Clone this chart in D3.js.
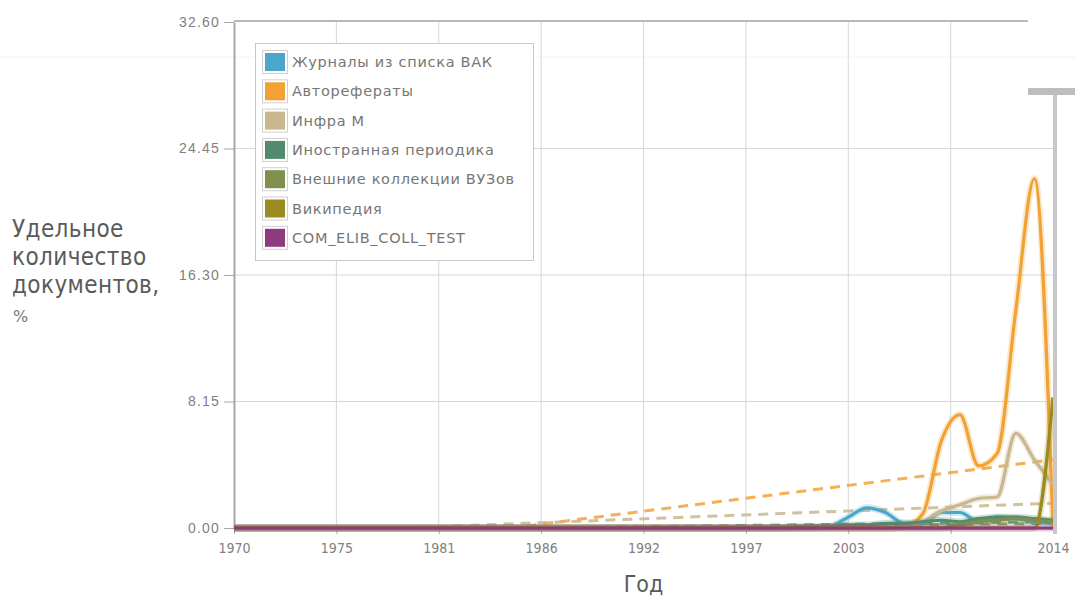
<!DOCTYPE html>
<html>
<head>
<meta charset="utf-8">
<script src="https://cdn.jsdelivr.net/npm/d3@7"></script>
<style>
  body { margin: 0; background: #fff; }
  svg { display: block; font-family: "DejaVu Sans", sans-serif; }
</style>
</head>
<body>
<script>
// годы
const years = [1970, 1971, 1972, 1973, 1974, 1975, 1976, 1977, 1978, 1979,
  1980, 1981, 1982, 1983, 1984, 1985, 1986, 1987, 1988, 1989,
  1990, 1991, 1992, 1993, 1994, 1995, 1996, 1997, 1998, 1999,
  2000, 2001, 2002, 2003, 2004, 2005, 2006, 2007, 2008, 2009,
  2010, 2011, 2012, 2013, 2014];

const seriesNames = ["Журналы из списка ВАК", "Авторефераты", "Инфра М",
  "Иностранная периодика", "Внешние коллекции ВУЗов", "Википедия", "COM_ELIB_COLL_TEST"];
const seriesColors = ["#4ba7c9", "#f2a234", "#c9b78e", "#4f8b6c", "#7e8f4e", "#9b8a1e", "#8d3a7f"];

// значения по годам, %
const vak = [0, 0, 0, 0, 0, 0, 0, 0, 0, 0, 0, 0, 0, 0, 0, 0, 0, 0, 0, 0,
  0, 0, 0, 0, 0, 0, 0, 0, 0, 0, 0, 0, 0.1, 0.7, 1.3, 1.0, 0.3, 0.3, 1.0, 1.0,
  0.4, 0.7, 0.6, 0.4, 0.3];
const avtoref = [0, 0, 0, 0, 0, 0, 0, 0, 0, 0, 0, 0, 0, 0, 0, 0, 0, 0, 0, 0,
  0, 0, 0, 0, 0, 0, 0, 0, 0, 0, 0, 0, 0, 0, 0, 0, 0.1, 0.9, 5.6, 7.3,
  4.0, 4.8, 14.0, 22.5, 0];
const infra = [0, 0, 0, 0, 0, 0, 0, 0, 0, 0, 0, 0, 0, 0, 0, 0, 0, 0, 0, 0,
  0, 0, 0, 0, 0, 0, 0, 0, 0, 0, 0, 0, 0, 0, 0, 0, 0.1, 0.4, 1.1, 1.5,
  1.9, 2.0, 6.1, 4.4, 2.8];
const inostr = [0, 0, 0, 0, 0, 0, 0, 0, 0, 0, 0, 0, 0, 0, 0, 0, 0, 0, 0, 0,
  0, 0, 0, 0, 0, 0, 0, 0, 0, 0, 0.05, 0.1, 0.1, 0.2, 0.2, 0.3, 0.3, 0.4, 0.5, 0.4,
  0.6, 0.7, 0.7, 0.6, 0.5];
const vuz = [0, 0, 0, 0, 0, 0, 0, 0, 0, 0, 0, 0, 0, 0, 0, 0, 0, 0, 0, 0,
  0, 0, 0, 0, 0, 0, 0, 0, 0, 0, 0, 0, 0, 0, 0, 0, 0, 0, 0, 0.2,
  0.4, 0.5, 0.6, 0.5, 0.4];
const wiki = [0, 0, 0, 0, 0, 0, 0, 0, 0, 0, 0, 0, 0, 0, 0, 0, 0, 0, 0, 0,
  0, 0, 0, 0, 0, 0, 0, 0, 0, 0, 0, 0, 0, 0, 0, 0, 0, 0, 0, 0,
  0, 0, 0, 0, 8.4];
const comTest = [0, 0, 0, 0, 0, 0, 0, 0, 0, 0, 0, 0, 0, 0, 0, 0, 0, 0, 0, 0,
  0, 0, 0, 0, 0, 0, 0, 0, 0, 0, 0, 0, 0, 0, 0, 0, 0, 0, 0, 0,
  0, 0, 0, 0, 0];
const seriesValues = [vak, avtoref, infra, inostr, vuz, wiki, comTest];

// линии тренда: [год, значение] начала и конца, индекс серии
const trendSeries = [1, 2, 3, 4];
const trendStart = [[1984.8, 0], [1979, 0], [1986, 0], [1990, 0]];
const trendEnd = [[2014, 4.4], [2014, 1.6], [2014, 0.4], [2014, 0.3]];

const yTicks = [0, 8.15, 16.30, 24.45, 32.60];
const xTicks = [1970, 1975.5, 1981, 1986.5, 1992, 1997.5, 2003, 2008.5, 2014];

function makeChart() {
  const width = 1075;
  const height = 616;
  const margin = { top: 22, right: 22, bottom: 88, left: 234 };

  const svg = d3.select("body").append("svg")
    .attr("width", width)
    .attr("height", height);

  const xScale = d3.scaleLinear()
    .domain([1970, 2014])
    .range([margin.left, width - margin.right]);

  const yScale = d3.scaleLinear()
    .domain([0, 32.60])
    .range([height - margin.bottom, margin.top]);

  const x0 = margin.left, x1 = width - margin.right;
  const y0 = height - margin.bottom, y1 = margin.top;

  // слабая линия страницы
  svg.append("line")
    .attr("x1", 0).attr("x2", width).attr("y1", 57).attr("y2", 57)
    .attr("stroke", "#f2f2f2");

  // сетка
  svg.append("g")
    .selectAll("line")
    .data(yTicks.slice(1, 4))
    .join("line")
    .attr("x1", x0).attr("x2", x1)
    .attr("y1", d => yScale(d)).attr("y2", d => yScale(d))
    .attr("stroke", "#d6d6d6");

  svg.append("g")
    .selectAll("line")
    .data(xTicks.slice(1, 8))
    .join("line")
    .attr("x1", d => xScale(d)).attr("x2", d => xScale(d))
    .attr("y1", y1).attr("y2", y0)
    .attr("stroke", "#d6d6d6");

  // верхняя граница
  svg.append("line")
    .attr("x1", x0).attr("x2", 1028)
    .attr("y1", y1 - 1).attr("y2", y1 - 1)
    .attr("stroke", "#b8b8b8").attr("stroke-width", 2);

  // y ось
  const yAxis = d3.axisLeft(yScale)
    .tickValues(yTicks)
    .tickFormat(d3.format(".2f"))
    .tickSize(10)
    .tickSizeOuter(0)
    .tickPadding(4);

  const gy = svg.append("g")
    .attr("transform", "translate(" + x0 + ",0)")
    .call(yAxis);
  gy.select(".domain").attr("stroke", "#a8a8a8").attr("stroke-width", 2);
  gy.selectAll(".tick line").attr("stroke", "#a8a8a8");
  gy.selectAll(".tick text")
    .attr("fill", "#808080")
    .style("font-size", "14px")
    .style("letter-spacing", "1.2px");

  // x ось
  const xAxis = d3.axisBottom(xScale)
    .tickValues(xTicks)
    .tickFormat(d => Math.floor(d))
    .tickSize(6)
    .tickSizeOuter(0)
    .tickPadding(9);

  const gx = svg.append("g")
    .attr("transform", "translate(0," + y0 + ")")
    .call(xAxis);
  gx.select(".domain").attr("stroke", "#a8a8a8").attr("stroke-width", 2);
  gx.selectAll(".tick line").attr("stroke", "#a8a8a8");
  gx.selectAll(".tick text")
    .attr("fill", "#808080")
    .style("font-family", "'DejaVu Sans Condensed', sans-serif")
    .style("font-size", "14px");

  // область рисования
  svg.append("clipPath").attr("id", "plot")
    .append("rect")
    .attr("x", x0).attr("y", y1 - 5)
    .attr("width", 1053 - x0).attr("height", y0 - y1 + 10);

  const plot = svg.append("g").attr("clip-path", "url(#plot)");

  const line = d3.line()
    .x((d, i) => xScale(years[i]))
    .y(d => yScale(d))
    .curve(d3.curveMonotoneX);

  const trendLine = d3.line()
    .x(d => xScale(d[0]))
    .y(d => yScale(d[1]));

  // тренды
  trendSeries.forEach((s, k) => {
    plot.append("path")
      .datum([trendStart[k], trendEnd[k]])
      .attr("d", trendLine)
      .attr("fill", "none")
      .attr("stroke", seriesColors[s])
      .attr("stroke-opacity", 0.85)
      .attr("stroke-width", 3)
      .attr("stroke-dasharray", "10,7");
  });

  // серии
  seriesValues.forEach((vals, s) => {
    plot.append("path")
      .datum(vals)
      .attr("d", line)
      .attr("fill", "none")
      .attr("stroke", seriesColors[s])
      .attr("stroke-opacity", 0.25)
      .attr("stroke-width", 7);
    plot.append("path")
      .datum(vals)
      .attr("d", line)
      .attr("fill", "none")
      .attr("stroke", seriesColors[s])
      .attr("stroke-width", 3.2);
  });

  // правая панель
  svg.append("rect")
    .attr("x", 1028).attr("y", 88).attr("width", width - 1028).attr("height", 7)
    .attr("fill", "#bdbdbd");
  svg.append("rect")
    .attr("x", 1053).attr("y", 95).attr("width", 4).attr("height", y0 - 95 + 6)
    .attr("fill", "#c8c8c8");

  // легенда
  const legend = svg.append("g");
  legend.append("rect")
    .attr("x", 255.5).attr("y", 43.5).attr("width", 278).attr("height", 217)
    .attr("fill", "#fff").attr("stroke", "#c8c8c8");

  const item = legend.selectAll("g.item")
    .data(seriesNames)
    .join("g")
    .attr("class", "item")
    .attr("transform", (d, i) => "translate(0," + (62 + i * 29.3) + ")");

  item.append("rect")
    .attr("x", 262.5).attr("y", -11.5).attr("width", 25).attr("height", 23)
    .attr("fill", "#fff").attr("stroke", "#d0d0d0");
  item.append("rect")
    .attr("x", 265).attr("y", -9).attr("width", 20).attr("height", 18)
    .attr("fill", (d, i) => seriesColors[i]);
  item.append("text")
    .attr("x", 292).attr("y", 5)
    .attr("fill", "#767676")
    .style("font-size", "14.5px")
    .style("letter-spacing", "0.7px")
    .text(d => d);

  // подписи осей
  const yTitle = svg.append("text")
    .attr("fill", "#5a5a5a")
    .style("font-family", "'DejaVu Sans Condensed', sans-serif")
    .style("font-size", "24px")
    .style("letter-spacing", "0.4px");
  ["Удельное", "количество", "документов,"].forEach((t, i) => {
    yTitle.append("tspan").attr("x", 12).attr("y", 237 + i * 28).text(t);
  });
  svg.append("text")
    .attr("x", 13).attr("y", 322)
    .attr("fill", "#777")
    .style("font-size", "16px")
    .text("%");

  svg.append("text")
    .attr("x", (x0 + 1053) / 2).attr("y", 592)
    .attr("text-anchor", "middle")
    .attr("fill", "#5a5a5a")
    .style("font-family", "'DejaVu Sans Condensed', sans-serif")
    .style("font-size", "23px")
    .text("Год");
}

makeChart();
</script>
</body>
</html>
